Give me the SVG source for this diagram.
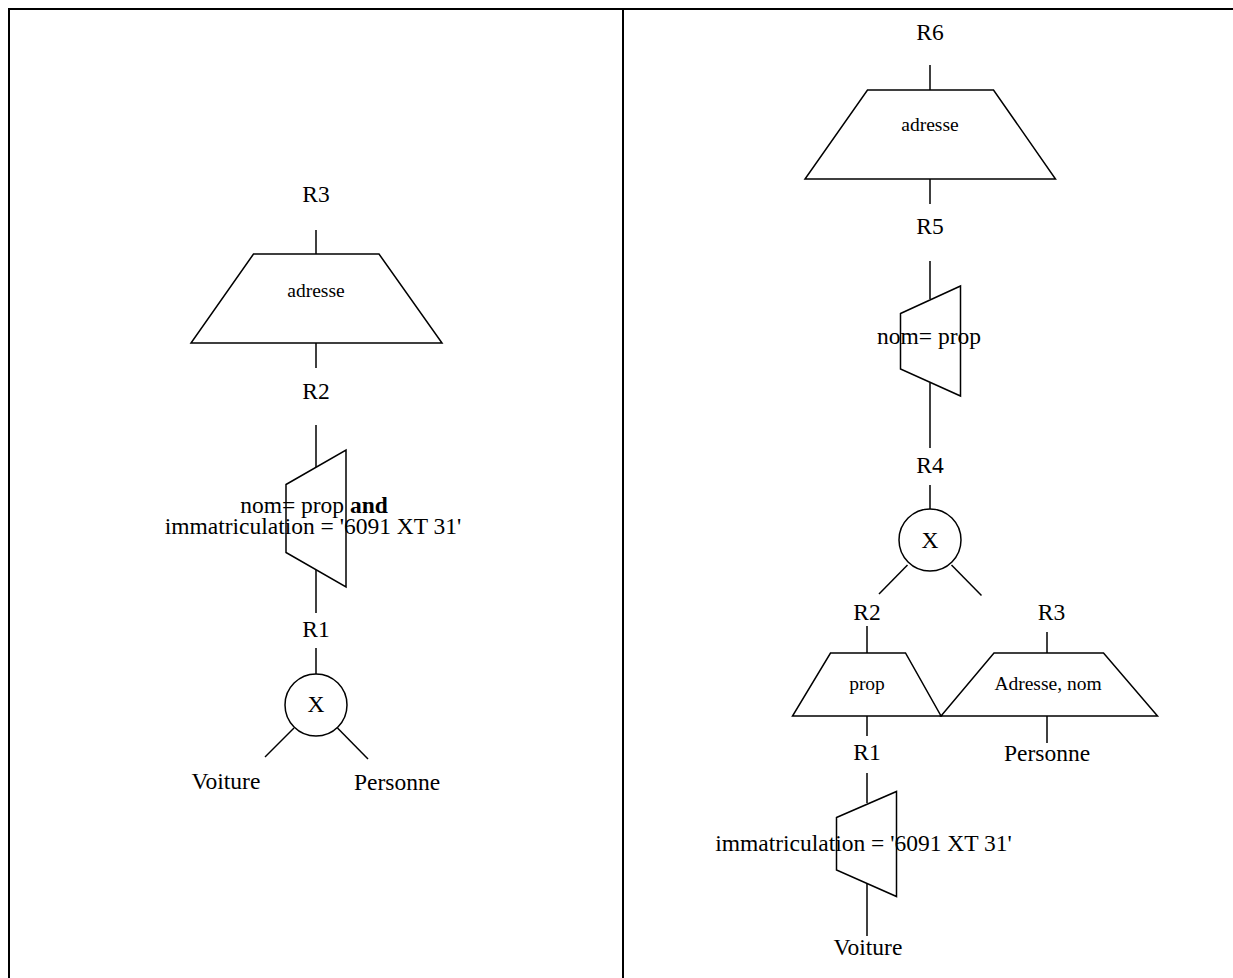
<svg xmlns="http://www.w3.org/2000/svg" width="1233" height="978" viewBox="0 0 1233 978">
<style>
.frame{stroke:#000;stroke-width:2;fill:none}
.shape{stroke:#000;stroke-width:1.5;fill:#fff}
.edge{stroke:#000;stroke-width:1.5;fill:none}
.t{font-family:"Liberation Serif","Times New Roman",serif;font-size:23.5px;fill:#000;text-anchor:middle}
.s{font-family:"Liberation Serif","Times New Roman",serif;font-size:19.5px;fill:#000;text-anchor:middle}
</style>
<rect width="1233" height="978" fill="#fff"/>
<g id="frame">
<line class="frame" x1="8" y1="9" x2="1233" y2="9"/>
<line class="frame" x1="9" y1="8" x2="9" y2="978"/>
<line class="frame" x1="623" y1="8" x2="623" y2="978"/>
</g>
<g id="connectors">
<line class="edge" x1="316" y1="230" x2="316" y2="254"/>
<line class="edge" x1="316" y1="343" x2="316" y2="368"/>
<line class="edge" x1="316" y1="425" x2="316" y2="467"/>
<line class="edge" x1="316" y1="570" x2="316" y2="613"/>
<line class="edge" x1="316" y1="648" x2="316" y2="674"/>
<line class="edge" x1="294" y1="728" x2="265" y2="757"/>
<line class="edge" x1="337.5" y1="728" x2="368" y2="759"/>
<line class="edge" x1="930" y1="65" x2="930" y2="90"/>
<line class="edge" x1="930" y1="179" x2="930" y2="204"/>
<line class="edge" x1="930" y1="261" x2="930" y2="299"/>
<line class="edge" x1="930" y1="383" x2="930" y2="448"/>
<line class="edge" x1="930" y1="485" x2="930" y2="509"/>
<line class="edge" x1="907.5" y1="565" x2="879" y2="594"/>
<line class="edge" x1="951.5" y1="565" x2="981.5" y2="595.5"/>
<line class="edge" x1="867" y1="626" x2="867" y2="653"/>
<line class="edge" x1="1047" y1="632" x2="1047" y2="653"/>
<line class="edge" x1="867" y1="716" x2="867" y2="736"/>
<line class="edge" x1="1047" y1="716" x2="1047" y2="743"/>
<line class="edge" x1="867" y1="773" x2="867" y2="803"/>
<line class="edge" x1="867" y1="883" x2="867" y2="936"/>
</g>
<g id="L_R3"><text class="t" x="316" y="202">R3</text></g>
<g id="L_proj_adresse">
<polygon class="shape" points="253.5,254 379,254 442,343 191,343"/>
<text class="s" x="316" y="297">adresse</text>
</g>
<g id="L_R2"><text class="t" x="316" y="399">R2</text></g>
<g id="L_select">
<polygon class="shape" points="286,484.5 346,450 346,587 286,552.5"/>
<text class="t" x="314" y="512.5">nom= prop <tspan font-weight="bold">and</tspan></text>
<text class="t" x="313" y="534">immatriculation = '6091 XT 31'</text>
</g>
<g id="L_R1"><text class="t" x="316" y="637">R1</text></g>
<g id="L_product">
<circle class="shape" cx="316" cy="705" r="31"/>
<text class="t" x="316" y="712">X</text>
</g>
<g id="L_Voiture"><text class="t" x="226" y="788.5">Voiture</text></g>
<g id="L_Personne"><text class="t" x="397" y="790">Personne</text></g>

<g id="R_R6"><text class="t" x="930" y="39.5">R6</text></g>
<g id="R_proj_adresse">
<polygon class="shape" points="867.5,90 993.5,90 1055.5,179 805,179"/>
<text class="s" x="930" y="130.5">adresse</text>
</g>
<g id="R_R5"><text class="t" x="930" y="233.5">R5</text></g>
<g id="R_select_nom">
<polygon class="shape" points="900.5,313.5 960.5,286 960.5,396 900.5,369"/>
<text class="t" x="929" y="343.5">nom= prop</text>
</g>
<g id="R_R4"><text class="t" x="930" y="473">R4</text></g>
<g id="R_product">
<circle class="shape" cx="930" cy="540" r="31"/>
<text class="t" x="930" y="547.5">X</text>
</g>
<g id="R_R2"><text class="t" x="867" y="619.5">R2</text></g>
<g id="R_R3"><text class="t" x="1051.5" y="619.5">R3</text></g>
<g id="R_proj_prop">
<polygon class="shape" points="830.5,653 905.5,653 941,716 792.5,716"/>
<text class="s" x="867" y="689.5">prop</text>
</g>
<g id="R_proj_adresse_nom">
<polygon class="shape" points="994,653 1103.5,653 1157.5,716 941,716"/>
<text class="s" x="1048" y="689.5">Adresse, nom</text>
</g>
<g id="R_R1"><text class="t" x="867" y="760">R1</text></g>
<g id="R_Personne"><text class="t" x="1047" y="761">Personne</text></g>
<g id="R_select_immat">
<polygon class="shape" points="836.5,817.5 896.5,791.5 896.5,896.5 836.5,870"/>
<text class="t" x="863.5" y="851">immatriculation = '6091 XT 31'</text>
</g>
<g id="R_Voiture"><text class="t" x="868" y="955">Voiture</text></g>
</svg>
